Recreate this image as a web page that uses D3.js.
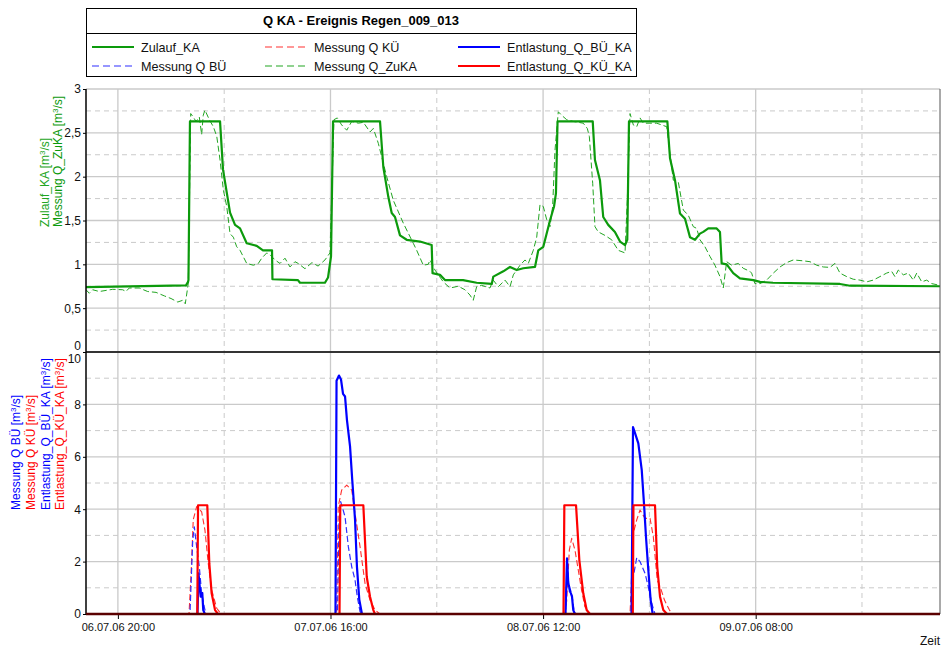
<!DOCTYPE html>
<html><head><meta charset="utf-8">
<script src="https://cdn.jsdelivr.net/npm/d3@7"></script>
<style>body{margin:0;background:#fff}svg{font-family:"Liberation Sans",Arial,Helvetica,sans-serif}</style>
</head><body><svg id="c" width="944" height="648"></svg>
<script>
// ---------------- data ----------------
const chartTitle = "Q KA - Ereignis Regen_009_013";
const startLabel = "06.07.06 17:00";      // left edge of the time axis
const spanHours = 80.34;                   // shown time span
const xTickLabels = ["06.07.06 20:00", "07.07.06 16:00", "08.07.06 12:00", "09.07.06 08:00"];
const xMinorLabels = ["07.07.06 06:00", "08.07.06 02:00", "08.07.06 22:00", "09.07.06 18:00"];
const yTopTicks = [0, 0.5, 1, 1.5, 2, 2.5, 3];
const yTopMinor = [0.25, 0.75, 1.25, 1.75, 2.25, 2.75];
const yBotTicks = [0, 2, 4, 6, 8, 10];
const yBotMinor = [1, 3, 5, 7, 9];

// [hours since start, m³/s]
const zulaufKA = [[0,0.74],[9.41,0.76],[9.6,0.8],[9.64,0.82],[9.78,2.63],[12.61,2.63],[12.89,2.08],[13.55,1.59],[14.02,1.45],[14.49,1.41],[15.12,1.24],[16.06,1.21],[16.65,1.16],[17.5,1.16],[17.54,0.83],[19.94,0.82],[20.13,0.79],[22.48,0.79],[22.77,0.85],[23.05,1.09],[23.24,2.63],[27.66,2.63],[27.97,2.11],[28.44,1.77],[28.76,1.585],[29.07,1.54],[29.54,1.33],[30.17,1.28],[31.42,1.26],[32.52,1.22],[32.6,0.9],[33.3,0.88],[33.77,0.82],[35.47,0.82],[36.75,0.79],[38.17,0.776],[38.32,0.86],[39.26,0.92],[39.89,0.97],[40.52,0.935],[41.14,0.955],[42.24,0.97],[42.55,1.16],[43.02,1.2],[43.65,1.5],[44.03,1.66],[44.21,1.81],[44.36,2.63],[47.67,2.63],[47.88,2.19],[48.35,1.96],[48.66,1.54],[49.13,1.45],[49.76,1.37],[50.24,1.26],[50.71,1.22],[50.92,1.28],[51.08,2.63],[54.69,2.63],[54.94,2.21],[55.41,1.96],[55.88,1.58],[56.35,1.52],[56.82,1.31],[57.29,1.28],[57.76,1.35],[58.07,1.37],[58.54,1.41],[59.33,1.41],[59.64,1.37],[59.8,1.01],[60.27,1.0],[60.89,0.9],[61.52,0.84],[62.78,0.82],[63.41,0.8],[64.63,0.79],[70.93,0.776],[71.87,0.756],[80.34,0.75]];
const messungZuKA = [[0,0.71],[0.31,0.67],[0.63,0.71],[1.25,0.69],[2.51,0.715],[3.45,0.71],[3.76,0.69],[4.07,0.73],[5.01,0.73],[5.8,0.69],[6.59,0.68],[7.37,0.64],[8.0,0.61],[8.63,0.57],[9.1,0.59],[9.34,0.55],[9.62,0.78],[9.85,2.72],[10.09,2.68],[10.35,2.63],[10.66,2.68],[10.88,2.48],[11.03,2.7],[11.19,2.76],[11.6,2.65],[11.98,2.57],[12.3,2.46],[12.61,2.19],[12.92,1.85],[13.24,1.66],[13.55,1.35],[13.86,1.31],[14.18,1.2],[14.49,1.16],[15.12,1.01],[15.74,0.99],[16.21,1.01],[16.53,1.07],[17.0,1.13],[17.31,1.11],[17.78,1.05],[18.25,1.01],[18.72,1.07],[19.19,0.97],[19.66,1.03],[19.97,1.01],[20.6,0.95],[21.26,1.02],[21.83,0.98],[22.48,1.05],[22.95,1.13],[23.33,2.65],[23.64,2.67],[24.05,2.59],[24.53,2.53],[25.0,2.63],[25.62,2.61],[26.09,2.62],[26.72,2.51],[27.03,2.55],[27.5,2.38],[28.29,2.0],[28.91,1.73],[29.85,1.47],[30.79,1.24],[31.11,1.16],[31.73,0.99],[32.2,1.0],[32.36,1.05],[32.83,0.935],[33.61,0.8],[34.24,0.73],[35.02,0.75],[35.65,0.71],[36.12,0.65],[36.43,0.59],[36.75,0.745],[37.22,0.76],[38.0,0.73],[38.31,0.82],[38.79,0.745],[39.42,0.82],[39.89,0.745],[40.2,0.88],[40.83,0.99],[41.3,1.05],[41.61,1.01],[42.08,1.16],[42.4,1.31],[42.71,1.68],[43.02,1.66],[43.34,1.51],[43.65,1.43],[43.9,1.66],[44.12,2.3],[44.43,2.74],[44.75,2.7],[45.22,2.65],[45.84,2.63],[46.78,2.61],[47.16,2.55],[47.35,2.46],[47.67,1.92],[47.88,1.43],[48.19,1.37],[48.82,1.33],[49.45,1.28],[50.07,1.16],[50.71,1.13],[50.92,1.73],[51.18,2.72],[51.49,2.59],[51.81,2.57],[52.12,2.67],[52.43,2.61],[53.69,2.61],[54.63,2.57],[54.94,2.26],[55.25,1.96],[55.72,1.94],[56.19,1.62],[56.66,1.56],[57.13,1.43],[57.45,1.41],[57.76,1.28],[58.23,1.2],[58.7,1.09],[59.17,0.99],[59.64,0.86],[59.95,0.73],[60.27,1.03],[60.74,0.99],[61.36,1.01],[61.83,0.955],[62.46,0.92],[62.62,0.9],[62.93,0.78],[63.41,0.78],[64.03,0.82],[64.66,0.9],[65.29,0.97],[65.92,1.02],[66.54,1.05],[67.48,1.04],[68.11,1.03],[68.74,0.99],[69.36,0.97],[69.99,0.965],[70.46,1.01],[70.93,0.9],[71.56,0.86],[72.18,0.83],[72.81,0.82],[73.44,0.8],[74.06,0.82],[74.69,0.86],[75.32,0.9],[75.79,0.92],[76.1,0.86],[76.42,0.935],[76.89,0.88],[77.36,0.9],[77.83,0.82],[78.15,0.9],[78.62,0.8],[79.09,0.82],[79.56,0.78],[80.34,0.76]];
const entlastungBUE = [[0,0],[10.49,0],[10.58,1.55],[10.79,0.66],[10.94,0.8],[11.03,0.15],[11.19,0],[23.47,0],[23.57,8.9],[23.8,9.1],[23.99,8.95],[24.18,8.4],[24.37,8.3],[24.55,7.4],[24.84,6.4],[25.05,5.1],[25.31,3.6],[25.49,1.8],[25.71,0.55],[25.96,0],[45.11,0],[45.25,2.12],[45.37,1.17],[45.6,0.81],[45.72,0.66],[45.84,0.15],[46.0,0],[51.32,0],[51.46,7.13],[51.65,6.9],[51.96,6.51],[52.28,5.5],[52.49,4.23],[52.68,2.95],[52.9,1.68],[53.12,0.53],[53.31,0],[80.34,0]];
const entlastungKUE = [[0,0],[10.47,0],[10.54,4.15],[11.41,4.15],[11.6,1.93],[11.82,0.79],[12.14,0.15],[12.42,0],[23.85,0],[23.92,4.15],[26.09,4.15],[26.41,1.42],[26.72,0.66],[27.03,0.15],[27.19,0],[44.92,0],[45.0,4.15],[46.1,4.15],[46.41,2.06],[46.78,0.79],[47.1,0.15],[47.41,0],[51.44,0],[51.5,4.15],[53.53,4.15],[53.74,1.8],[54.0,0.66],[54.31,0.15],[54.66,0],[80.34,0]];
const messungBUE = [[0,0],[9.78,0],[10.04,2.82],[10.19,3.33],[10.41,2.57],[10.66,1.8],[10.88,0.79],[11.19,0.15],[11.38,0],[23.66,0],[23.8,3.5],[23.96,4.29],[24.37,3.71],[24.68,2.57],[25.0,1.8],[25.31,1.3],[25.52,0.66],[25.78,0.09],[25.96,0],[45.11,0],[45.28,1.8],[45.47,0.85],[45.69,0.79],[45.91,0.15],[46.05,0],[51.32,0],[51.49,1.42],[51.81,2.15],[52.12,2.0],[52.59,1.55],[52.9,1.04],[53.22,0.41],[53.53,0],[80.34,0]];
const messungKUE = [[0,0],[9.69,0],[9.88,1.5],[10.09,3.6],[10.41,4.1],[10.88,3.9],[11.19,3.2],[11.5,1.93],[11.82,0.92],[12.3,0.22],[12.54,0.09],[12.7,0],[23.58,0],[23.73,4.1],[24.05,4.73],[24.53,4.92],[25.0,4.73],[25.31,3.84],[25.78,2.57],[26.25,1.17],[26.72,0.53],[27.19,0.15],[27.66,0],[45.06,0],[45.22,0.5],[45.47,2.44],[45.69,2.89],[46.0,2.44],[46.31,1.68],[46.62,0.92],[46.93,0.28],[47.41,0],[51.18,0],[51.49,3.08],[51.81,3.59],[52.12,3.97],[52.59,3.65],[53.06,3.65],[53.37,2.95],[53.74,1.3],[54.11,0.92],[54.42,0.53],[54.89,0.15],[55.16,0],[80.34,0]];

// ---------------- styles ----------------
const GREEN = "#0c9a0c", GREEN_D = "#22a522", BLUE = "#0000ff", BLUE_D = "#2f2fff", RED = "#ff0000", RED_D = "#ff3030";
const GRID = "#cacaca";

const svg = d3.select("#c");
const parse = d3.timeParse("%d.%m.%y %H:%M");
const t0 = parse(startLabel);
const toDate = h => new Date(t0.getTime() + h * 3600000);

const L = 86, R = 940, TOP = 89, MID = 352, BOT = 614;
const x = d3.scaleTime().domain([t0, toDate(spanHours)]).range([L, R]);
const yTop = d3.scaleLinear().domain([0, 3]).range([MID, TOP]);
const yBot = d3.scaleLinear().domain([0, 10]).range([BOT, MID]);

const fmtNum = v => String(v).replace(".", ",");

// grid
const grid = svg.append("g");
function hgrid(scale, vals, dashed) {
  grid.selectAll(null).data(vals).enter().append("line")
    .attr("x1", L).attr("x2", R).attr("y1", d => scale(d)).attr("y2", d => scale(d))
    .attr("stroke", GRID).attr("stroke-width", dashed ? 1 : 1.3)
    .attr("stroke-dasharray", dashed ? "5,4" : null);
}
hgrid(yTop, yTopMinor, true); hgrid(yTop, yTopTicks, false);
hgrid(yBot, yBotMinor, true); hgrid(yBot, yBotTicks, false);
const majDates = xTickLabels.map(parse), minDates = xMinorLabels.map(parse);
grid.selectAll(null).data(minDates).enter().append("line")
  .attr("x1", d => x(d)).attr("x2", d => x(d)).attr("y1", TOP).attr("y2", BOT)
  .attr("stroke", GRID).attr("stroke-dasharray", "5,4");
grid.selectAll(null).data(majDates).enter().append("line")
  .attr("x1", d => x(d)).attr("x2", d => x(d)).attr("y1", TOP).attr("y2", BOT)
  .attr("stroke", GRID).attr("stroke-width", 1.3);

// clips
const defs = svg.append("defs");
defs.append("clipPath").attr("id", "cTop").append("rect").attr("x", L).attr("y", TOP - 2).attr("width", R - L).attr("height", MID - TOP + 2);
defs.append("clipPath").attr("id", "cBot").append("rect").attr("x", L).attr("y", MID).attr("width", R - L).attr("height", BOT - MID + 2);

function drawLine(g, data, ys, color, width, dash) {
  const line = d3.line().x(d => x(toDate(d[0]))).y(d => ys(d[1]));
  g.append("path").datum(data).attr("d", line).attr("fill", "none")
    .attr("stroke", color).attr("stroke-width", width)
    .attr("stroke-dasharray", dash || null).attr("stroke-linejoin", "round");
}
const gTop = svg.append("g").attr("clip-path", "url(#cTop)");
drawLine(gTop, messungZuKA, yTop, GREEN_D, 1, "6,3");
drawLine(gTop, zulaufKA, yTop, GREEN, 2.2);

const gBot = svg.append("g").attr("clip-path", "url(#cBot)");
drawLine(gBot, messungKUE, yBot, RED_D, 1.1, "6,3");
drawLine(gBot, messungBUE, yBot, BLUE_D, 1.2, "6,3");
drawLine(gBot, entlastungBUE, yBot, BLUE, 2.2);
drawLine(gBot, entlastungKUE, yBot, RED, 2.2);

// axes
const axTop = svg.append("g").attr("transform", `translate(${L},0)`)
  .call(d3.axisLeft(yTop).tickValues(yTopTicks).tickFormat(fmtNum).tickSize(3).tickPadding(2));
const axBot = svg.append("g").attr("transform", `translate(${L},0)`)
  .call(d3.axisLeft(yBot).tickValues(yBotTicks).tickFormat(fmtNum).tickSize(3).tickPadding(2));
[axTop, axBot].forEach(a => {
  a.select(".domain").remove();
  a.selectAll("text").attr("font-size", 12).attr("fill", "#111").attr("font-family", "Liberation Sans, Arial, sans-serif");
  a.selectAll("line").attr("stroke", "#000");
});
axTop.selectAll(".tick").filter(d => d === 0).select("text").attr("dy", "-0.18em");
axBot.selectAll(".tick").filter(d => d === 10).select("text").attr("dy", "0.85em");

const axX = svg.append("g").attr("transform", `translate(0,${BOT})`)
  .call(d3.axisBottom(x).tickValues(majDates).tickFormat(d3.timeFormat("%d.%m.%y %H:%M")).tickSize(5).tickPadding(4));
axX.select(".domain").remove();
axX.selectAll("text").attr("font-size", 11).attr("fill", "#111").attr("font-family", "Liberation Sans, Arial, sans-serif");
axX.selectAll("line").attr("stroke", "#000");

// frame
svg.append("line").attr("x1", L).attr("x2", L).attr("y1", TOP).attr("y2", BOT).attr("stroke", "#000").attr("stroke-width", 1.5);
svg.append("line").attr("x1", R).attr("x2", R).attr("y1", TOP).attr("y2", BOT).attr("stroke", "#555").attr("stroke-width", 1);
svg.append("line").attr("x1", L).attr("x2", R).attr("y1", MID).attr("y2", MID).attr("stroke", "#000").attr("stroke-width", 1.5);
svg.append("line").attr("x1", L).attr("x2", R).attr("y1", BOT).attr("y2", BOT).attr("stroke", "#5a0000").attr("stroke-width", 2.5);

// axis titles
function vtitle(xp, yp, txt, color) {
  svg.append("text").attr("transform", `translate(${xp},${yp}) rotate(-90)`)
    .attr("font-size", 12).attr("fill", color).attr("text-anchor", "start")
    .html(txt);
}
vtitle(49, 227, "Zulauf_KA [m<tspan dy='-4' font-size='8'>3</tspan><tspan dy='4'>/s]</tspan>", GREEN_D);
vtitle(62, 227, "Messung Q_ZuKA [m<tspan dy='-4' font-size='8'>3</tspan><tspan dy='4'>/s]</tspan>", GREEN);
vtitle(20, 510, "Messung Q BÜ [m<tspan dy='-4' font-size='8'>3</tspan><tspan dy='4'>/s]</tspan>", BLUE);
vtitle(35, 510, "Messung Q KÜ [m<tspan dy='-4' font-size='8'>3</tspan><tspan dy='4'>/s]</tspan>", RED);
vtitle(50, 510, "Entlastung_Q_BÜ_KA [m<tspan dy='-4' font-size='8'>3</tspan><tspan dy='4'>/s]</tspan>", BLUE);
vtitle(64, 510, "Entlastung_Q_KÜ_KA [m<tspan dy='-4' font-size='8'>3</tspan><tspan dy='4'>/s]</tspan>", RED);

svg.append("text").attr("x", 940).attr("y", 645).attr("text-anchor", "end").attr("font-size", 12).attr("fill", "#111").text("Zeit");

// legend
const legendNames = ["Zulauf_KA", "Messung Q KÜ", "Entlastung_Q_BÜ_KA", "Messung Q BÜ", "Messung Q_ZuKA", "Entlastung_Q_KÜ_KA"];
const legendColors = [GREEN, RED_D, BLUE, BLUE_D, GREEN_D, RED];
const legendDashed = [false, true, false, true, true, false];
const lg = svg.append("g");
lg.append("rect").attr("x", 86.5).attr("y", 8.5).attr("width", 550).attr("height", 68).attr("fill", "#fff").attr("stroke", "#000");
lg.append("line").attr("x1", 86.5).attr("x2", 636.5).attr("y1", 33.5).attr("y2", 33.5).attr("stroke", "#000");
lg.append("text").attr("x", 361).attr("y", 25).attr("text-anchor", "middle").attr("font-size", 13).attr("font-weight", "bold").attr("fill", "#000").text(chartTitle);
const colX = [92, 265, 458];
legendNames.forEach((n, i) => {
  const c = i % 3, r = Math.floor(i / 3);
  const yy = 47 + r * 19;
  lg.append("line").attr("x1", colX[c]).attr("x2", colX[c] + 42).attr("y1", yy).attr("y2", yy)
    .attr("stroke", legendColors[i]).attr("stroke-width", legendDashed[i] ? 1.2 : 2.2)
    .attr("stroke-dasharray", legendDashed[i] ? "7,4" : null);
  lg.append("text").attr("x", colX[c] + 49).attr("y", yy + 4.5).attr("font-size", 12.6).attr("fill", "#111").text(n);
});
</script></body></html>
